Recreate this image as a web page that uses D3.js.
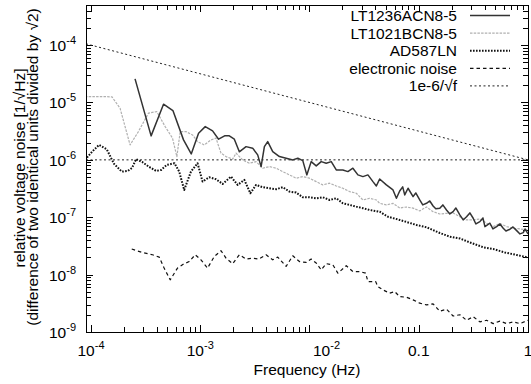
<!DOCTYPE html>
<html>
<head>
<meta charset="utf-8">
<title>Relative voltage noise of voltage references</title>
<script src="https://cdn.jsdelivr.net/npm/d3@7"></script>
<style>
body { margin: 0; background: #fff; }
svg { font-family: "Liberation Sans", Arial, Helvetica, sans-serif; }
</style>
</head>
<body>
<svg id="chart" width="531" height="384"></svg>
<script>
// ---- data ----
var lt1236Freq = [2.53e-4, 3.55e-4, 4.61e-4, 5.62e-4, 7.03e-4, 8.27e-4, 9.65e-4, 1.111e-3, 1.297e-3, 1.472e-3,
	1.671e-3, 1.845e-3, 2.051e-3, 2.279e-3, 2.626e-3, 3.019e-3, 3.356e-3, 3.606e-3, 3.865e-3, 4.145e-3,
	4.606e-3, 5.307e-3, 6.11e-3, 7.03e-3, 7.81e-3, 8.68e-3, 9.45e-3, 1.036e-2, 1.152e-2, 1.280e-2,
	1.423e-2, 1.582e-2, 1.758e-2, 2.021e-2, 2.246e-2, 2.496e-2, 2.774e-2, 3.083e-2, 3.426e-2, 3.808e-2,
	4.092e-2, 4.386e-2, 5.054e-2, 5.810e-2, 6.245e-2, 6.693e-2, 7.13e-2, 7.44e-2, 7.98e-2, 8.87e-2,
	9.39e-2, 0.1021, 0.1088, 0.1177, 0.1262, 0.1353, 0.1432, 0.1558, 0.1661, 0.1795,
	0.1925, 0.2064, 0.2185, 0.2377, 0.2550, 0.2739, 0.2937, 0.3150, 0.3334, 0.3628,
	0.3867, 0.4034, 0.4482, 0.4775, 0.5162, 0.5536, 0.5934, 0.6284, 0.6838, 0.7287,
	0.7876, 0.8445, 0.9056, 0.9387, 1.0];
var lt1236Noise = [2.58e-5, 2.62e-6, 9.34e-6, 7.22e-6, 2.23e-6, 1.27e-6, 2.92e-6, 3.80e-6, 3.20e-6, 2.29e-6,
	2.62e-6, 2.62e-6, 2.29e-6, 1.38e-6, 1.70e-6, 1.60e-6, 1.22e-6, 7.63e-7, 1.70e-6, 2.08e-6,
	1.39e-6, 1.14e-6, 1.07e-6, 9.98e-7, 1.07e-6, 9.70e-7, 5.47e-7, 9.32e-7, 7.84e-7, 9.32e-7,
	8.74e-7, 9.32e-7, 6.68e-7, 6.68e-7, 6.24e-7, 7.15e-7, 5.47e-7, 5.11e-7, 5.47e-7, 4.18e-7,
	3.51e-7, 4.65e-7, 3.66e-7, 2.99e-7, 2.14e-7, 2.87e-7, 3.38e-7, 2.45e-7, 3.20e-7, 2.29e-7,
	2.65e-7, 2.00e-7, 1.64e-7, 1.75e-7, 1.92e-7, 1.57e-7, 1.40e-7, 1.44e-7, 1.64e-7, 1.34e-7,
	1.14e-7, 1.25e-7, 1.45e-7, 1.10e-7, 8.97e-8, 1.02e-7, 1.19e-7, 9.61e-8, 7.64e-8, 8.38e-8,
	9.72e-8, 6.86e-8, 7.86e-8, 6.25e-8, 6.86e-8, 7.64e-8, 6.43e-8, 5.77e-8, 6.18e-8, 6.77e-8,
	5.84e-8, 5.12e-8, 5.39e-8, 6.25e-8, 5.12e-8];

var lt1021Freq = [8.81e-5, 1.344e-4, 1.558e-4, 1.845e-4, 2.279e-4, 2.716e-4, 3.356e-4, 4.006e-4, 4.774e-4, 5.570e-4,
	6.11e-4, 6.555e-4, 7.39e-4, 8.50e-4, 9.45e-4, 1.088e-3, 1.254e-3, 1.393e-3, 1.549e-3, 1.721e-3,
	1.979e-3, 2.126e-3, 2.444e-3, 2.815e-3, 3.243e-3, 3.729e-3, 4.295e-3, 4.949e-3, 5.689e-3, 6.555e-3,
	7.55e-3, 8.68e-3, 1.0e-2, 1.152e-2, 1.324e-2, 1.526e-2, 1.758e-2, 2.021e-2, 2.328e-2, 2.682e-2,
	3.083e-2, 3.552e-2, 4.092e-2, 4.386e-2, 5.054e-2, 5.810e-2, 6.693e-2, 7.71e-2, 8.87e-2, 0.1021,
	0.1177, 0.1353, 0.1558, 0.1795, 0.2064, 0.2377, 0.2739, 0.3150, 0.3628, 0.4180,
	0.4807, 0.5536, 0.6378, 0.7332, 0.8445, 1.0];
var lt1021Noise = [1.27e-5, 1.27e-5, 1.25e-5, 7.95e-6, 1.82e-6, 3.11e-6, 6.51e-6, 6.94e-6, 3.80e-6, 2.39e-6,
	1.14e-6, 3.11e-6, 3.11e-6, 2.72e-6, 2.08e-6, 1.82e-6, 2.23e-6, 2.39e-6, 1.31e-6, 1.14e-6,
	1.03e-6, 1.31e-6, 9.98e-7, 8.74e-7, 9.32e-7, 7.15e-7, 7.63e-7, 7.15e-7, 6.24e-7, 5.47e-7,
	4.79e-7, 5.11e-7, 4.79e-7, 4.18e-7, 3.66e-7, 3.92e-7, 3.51e-7, 3.20e-7, 2.80e-7, 2.62e-7,
	2.00e-7, 2.14e-7, 2.00e-7, 1.75e-7, 1.64e-7, 1.75e-7, 1.45e-7, 1.51e-7, 1.44e-7, 1.29e-7,
	1.51e-7, 1.25e-7, 1.14e-7, 1.17e-7, 1.19e-7, 1.02e-7, 8.97e-8, 8.97e-8, 9.34e-8, 7.86e-8,
	6.86e-8, 7.80e-8, 6.86e-8, 6.43e-8, 6.25e-8, 6.00e-8];

var ad587Freq = [8.81e-5, 1.021e-4, 1.184e-4, 1.393e-4, 1.626e-4, 1.912e-4, 2.171e-4, 2.377e-4, 2.587e-4, 2.937e-4,
	3.405e-4, 3.947e-4, 4.386e-4, 4.949e-4, 5.810e-4, 6.416e-4, 7.13e-4, 8.22e-4, 9.45e-4, 1.050e-3,
	1.209e-3, 1.393e-3, 1.602e-3, 1.913e-3, 2.199e-3, 2.533e-3, 2.875e-3, 3.243e-3, 3.729e-3, 4.295e-3,
	4.949e-3, 5.689e-3, 6.555e-3, 7.55e-3, 8.68e-3, 1.0e-2, 1.152e-2, 1.324e-2, 1.526e-2, 1.758e-2,
	2.021e-2, 2.328e-2, 2.682e-2, 3.083e-2, 3.552e-2, 4.386e-2, 5.228e-2, 6.693e-2, 8.27e-2, 9.53e-2,
	0.1177, 0.1558, 0.1925, 0.2377, 0.2937, 0.3891, 0.4807, 0.6152, 0.7876, 1.0];
var ad587Noise = [1.0e-6, 1.38e-6, 1.82e-6, 1.53e-6, 8.50e-7, 6.24e-7, 6.42e-7, 7.24e-7, 1.03e-6, 9.21e-7,
	7.54e-7, 6.42e-7, 6.68e-7, 8.17e-7, 8.74e-7, 6.24e-7, 2.99e-7, 6.24e-7, 8.74e-7, 4.18e-7,
	4.98e-7, 4.60e-7, 3.81e-7, 5.11e-7, 3.66e-7, 4.47e-7, 2.62e-7, 3.66e-7, 3.34e-7, 3.20e-7,
	3.08e-7, 3.34e-7, 2.80e-7, 2.69e-7, 2.23e-7, 2.23e-7, 2.14e-7, 2.23e-7, 2.00e-7, 2.14e-7,
	1.75e-7, 1.64e-7, 1.53e-7, 1.44e-7, 1.34e-7, 1.25e-7, 1.02e-7, 8.97e-8, 7.96e-8, 7.34e-8,
	6.69e-8, 5.32e-8, 4.59e-8, 4.27e-8, 3.64e-8, 3.00e-8, 2.80e-8, 2.43e-8, 2.20e-8, 1.99e-8];

var elecFreq = [2.36e-4, 2.95e-4, 3.65e-4, 4.21e-4, 4.67e-4, 5.31e-4, 6.19e-4, 7.13e-4, 7.93e-4, 9.00e-4,
	1.015e-3, 1.167e-3, 1.344e-3, 1.549e-3, 1.721e-3, 1.979e-3, 2.279e-3, 2.626e-3, 3.019e-3, 3.426e-3,
	4.006e-3, 4.606e-3, 5.119e-3, 6.11e-3, 7.03e-3, 8.09e-3, 9.33e-3, 1.036e-2, 1.152e-2, 1.280e-2,
	1.423e-2, 1.636e-2, 1.818e-2, 2.171e-2, 2.496e-2, 2.875e-2, 3.264e-2, 3.426e-2, 4.03e-2, 4.23e-2,
	4.70e-2, 5.42e-2, 6.02e-2, 6.69e-2, 7.71e-2, 8.87e-2, 0.1021, 0.1177, 0.1353, 0.1558,
	0.1795, 0.2064, 0.2377, 0.2739, 0.3150, 0.3628, 0.4180, 0.4807, 0.5536, 0.6378,
	0.7332, 0.8445, 1.0];
var elecNoise = [2.79e-8, 2.43e-8, 2.22e-8, 2.02e-8, 1.30e-8, 8.11e-9, 1.30e-8, 1.55e-8, 1.69e-8, 2.22e-8,
	1.81e-8, 1.30e-8, 2.07e-8, 2.61e-8, 1.94e-8, 1.55e-8, 2.22e-8, 1.87e-8, 1.94e-8, 1.87e-8,
	2.22e-8, 1.81e-8, 2.02e-8, 1.39e-8, 2.13e-8, 1.69e-8, 1.63e-8, 1.87e-8, 1.59e-8, 1.21e-8,
	1.55e-8, 1.48e-8, 1.06e-8, 1.43e-8, 1.13e-8, 1.13e-8, 1.06e-8, 7.57e-9, 7.57e-9, 6.19e-9,
	5.42e-9, 4.75e-9, 5.07e-9, 4.14e-9, 4.04e-9, 3.63e-9, 3.18e-9, 2.97e-9, 3.10e-9, 2.30e-9,
	2.50e-9, 1.90e-9, 2.00e-9, 1.60e-9, 1.85e-9, 1.50e-9, 1.60e-9, 1.40e-9, 1.55e-9, 1.40e-9,
	1.50e-9, 1.40e-9, 1.60e-9];

// 1e-6/sqrt(f) guide line and the flat 1e-6 level
var guideFreq = [9e-5, 1e-4, 1];
var guideNoise = [1.054e-4, 1e-4, 1e-6];
var flatLevel = 1e-6;

var xTickVals = [1e-4, 1e-3, 1e-2, 0.1, 1];
var xTickBase = ["10", "10", "10", "0.1", "1"];
var xTickExp = ["-4", "-3", "-2", "", ""];
var yTickVals = [1e-9, 1e-8, 1e-7, 1e-6, 1e-5, 1e-4];
var yTickExp = ["-9", "-8", "-7", "-6", "-5", "-4"];

var legendNames = ["LT1236ACN8-5", "LT1021BCN8-5", "AD587LN", "electronic noise", "1e-6/\u221Af"];

// ---- scales ----
var L = 86, R = 528, T = 5, B = 332;
var x = d3.scaleLog().domain([9e-5, 1]).range([L, R]);
var y = d3.scaleLog().domain([1e-9, 5e-4]).range([B, T]);

var svg = d3.select("#chart");

function zip(f, v) {
	return f.map(function(d, i) { return [d, v[i]]; });
}
function minorTicks(lo, hi) {
	var t = [];
	for (var e = -10; e <= 0; e++) {
		for (var k = 2; k < 10; k++) {
			var v = k * Math.pow(10, e);
			if (v >= lo && v <= hi) t.push(v);
		}
	}
	return t;
}

// ticks, all four sides, pointing inward
var xMinor = minorTicks(9e-5, 1), yMinor = minorTicks(1e-9, 5e-4);
var tickG = svg.append("g").attr("shape-rendering", "crispEdges");
function addTicks(axis, tf) {
	var g = tickG.append("g").attr("transform", tf).call(axis);
	g.select(".domain").remove();
	g.selectAll("text").remove();
	g.selectAll("line").attr("stroke", "#000");
}
[[xMinor, 5], [xTickVals, 7]].forEach(function(p) {
	addTicks(d3.axisBottom(x).tickValues(p[0]).tickSizeInner(-p[1]).tickSizeOuter(0), "translate(0," + B + ")");
	addTicks(d3.axisTop(x).tickValues(p[0]).tickSizeInner(-p[1]).tickSizeOuter(0), "translate(0," + T + ")");
});
[[yMinor, 5], [yTickVals, 7]].forEach(function(p) {
	addTicks(d3.axisLeft(y).tickValues(p[0]).tickSizeInner(-p[1]).tickSizeOuter(0), "translate(" + L + ",0)");
	addTicks(d3.axisRight(y).tickValues(p[0]).tickSizeInner(-p[1]).tickSizeOuter(0), "translate(" + R + ",0)");
});

// tick labels
var xLab = svg.append("g").attr("font-size", 15.5).attr("text-anchor", "middle");
xTickVals.forEach(function(v, i) {
	var shift = (v === 1e-2) ? 17 : 0; // the 10^-2 label sits right of its tick in the original
	var t = xLab.append("text").attr("x", x(v) + shift).attr("y", 356);
	t.append("tspan").text(xTickBase[i]);
	if (xTickExp[i]) t.append("tspan").attr("dy", -7).attr("font-size", 11).text(xTickExp[i]);
});
var yLab = svg.append("g").attr("font-size", 15.5).attr("text-anchor", "end");
yTickVals.forEach(function(v, i) {
	var t = yLab.append("text").attr("x", 76).attr("y", y(v) + 6);
	t.append("tspan").text("10");
	t.append("tspan").attr("dy", -7).attr("font-size", 11).text(yTickExp[i]);
});

// axis titles
svg.append("text").attr("x", 307).attr("y", 375).attr("text-anchor", "middle")
	.attr("font-size", 15.5).text("Frequency (Hz)");
svg.append("text").attr("transform", "translate(25,168) rotate(-90)").attr("text-anchor", "middle")
	.attr("font-size", 15.5).text("relative voltage noise [1/\u221AHz]");
svg.append("text").attr("transform", "translate(38,167) rotate(-90)").attr("text-anchor", "middle")
	.attr("font-size", 15.5).text("(difference of two identical units divided by \u221A2)");

// series
svg.append("clipPath").attr("id", "plotclip").append("rect")
	.attr("x", L).attr("y", T).attr("width", R - L).attr("height", B - T);
var plot = svg.append("g").attr("clip-path", "url(#plotclip)");
var line = d3.line().x(function(d) { return x(d[0]); }).y(function(d) { return y(d[1]); });

var styles = [
	{ stroke: "#333", width: 1.5, dash: null },
	{ stroke: "#b0b0b0", width: 1.2, dash: "2.5,1.2" },
	{ stroke: "#111", width: 2, dash: "1.6,1.4" },
	{ stroke: "#111", width: 1.2, dash: "3.5,3" },
	{ stroke: "#222", width: 1, dash: "2,2.5" }
];
var series = [
	zip(lt1236Freq, lt1236Noise),
	zip(lt1021Freq, lt1021Noise),
	zip(ad587Freq, ad587Noise),
	zip(elecFreq, elecNoise),
	zip(guideFreq, guideNoise)
];

plot.append("path").datum([[9e-5, flatLevel], [1, flatLevel]]).attr("d", line)
	.attr("fill", "none").attr("stroke", styles[4].stroke).attr("stroke-width", styles[4].width)
	.attr("stroke-dasharray", styles[4].dash);

[4, 3, 2, 1, 0].forEach(function(i) {
	plot.append("path").datum(series[i]).attr("d", line)
		.attr("fill", "none").attr("stroke", styles[i].stroke).attr("stroke-width", styles[i].width)
		.attr("stroke-dasharray", styles[i].dash).attr("stroke-linejoin", "round");
});

// frame
svg.append("rect").attr("x", L).attr("y", T).attr("width", R - L).attr("height", B - T)
	.attr("fill", "none").attr("stroke", "#000").attr("stroke-width", 1).attr("shape-rendering", "crispEdges");

// legend
var leg = svg.append("g").attr("font-size", 15.5);
legendNames.forEach(function(name, i) {
	var cy = 15.5 + i * 17.6;
	leg.append("text").attr("x", 457).attr("y", cy + 5.5).attr("text-anchor", "end").text(name);
	leg.append("line").attr("x1", 470).attr("x2", 510).attr("y1", cy).attr("y2", cy)
		.attr("stroke", styles[i].stroke).attr("stroke-width", styles[i].width)
		.attr("stroke-dasharray", styles[i].dash);
});
</script>
</body>
</html>
